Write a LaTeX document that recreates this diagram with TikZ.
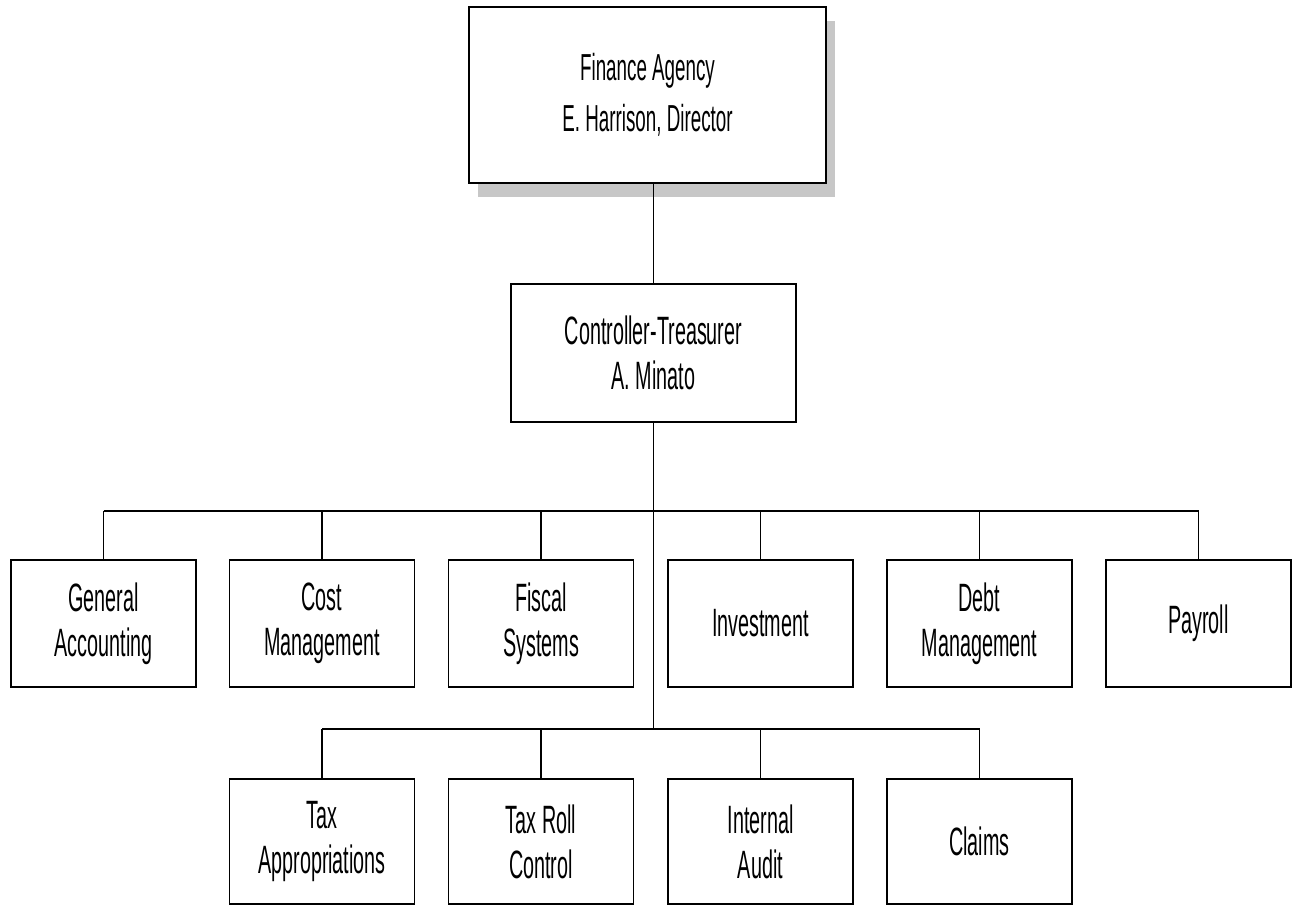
\documentclass[tikz,border=0pt]{standalone}
\usepackage{fontspec}
\setmainfont{Liberation Sans}[FakeStretch=0.5]
\begin{document}
\begin{tikzpicture}[
	unit/.style={draw, line width=1pt, fill=white, align=center,
		minimum width=3.7cm, minimum height=2.54cm,
		font=\fontsize{22.5}{25.6}\selectfont},
	link/.style={line width=0.8pt}]
	\useasboundingbox (0,0) rectangle (25.9,-18.1);
	% director box with its grey shadow
	\fill[black!22] (9.56,-0.42) rectangle (16.7,-3.94);
	\node[unit, minimum width=7.14cm, minimum height=3.52cm,
		font=\fontsize{21.4}{29}\selectfont] (dir) at (12.95,-1.9)
		{Finance Agency\\E. Harrison, Director};
	\node[unit, minimum width=5.7cm, minimum height=2.76cm] (ctrl) at (13.07,-7.06)
		{Controller-Treasurer\\A. Minato};
	\draw[link] (dir.south -| ctrl.north) -- (ctrl.north);
	% the two branch lines
	\coordinate (bar1) at (13.07,-10.22);
	\coordinate (bar2) at (13.07,-14.58);
	\draw[link] (ctrl.south) -- (ctrl.south |- bar2);
	% first row of sections
	\foreach \name/\x/\txt in {genacc/2.07/General\\Accounting, cost/6.44/Cost\\Management,
		fiscal/10.82/Fiscal\\Systems, invest/15.21/Investment,
		debt/19.59/Debt\\Management, payroll/23.97/Payroll}{
		\node[unit] (\name) at (\x,-12.47) {\txt};
		\draw[link] (\name.north) -- (\name.north |- bar1);
	}
	\draw[link] (genacc.north |- bar1) -- (payroll.north |- bar1);
	% second row of sections
	\foreach \name/\x/\txt in {taxapp/6.44/Tax\\Appropriations, taxroll/10.82/Tax Roll\\Control,
		audit/15.21/Internal\\Audit, claims/19.59/Claims}{
		\node[unit, minimum height=2.5cm] (\name) at (\x,-16.83) {\txt};
		\draw[link] (\name.north) -- (\name.north |- bar2);
	}
	\draw[link] (taxapp.north |- bar2) -- (claims.north |- bar2);
\end{tikzpicture}
\end{document}
